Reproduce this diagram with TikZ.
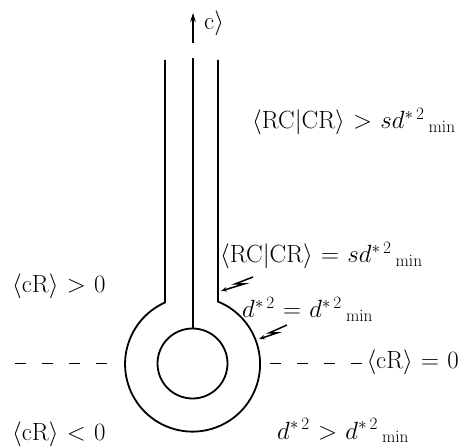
\documentclass[tikz,border=0pt]{standalone}
\usetikzlibrary{arrows.meta}
\DeclareMathSizes{23}{23}{16.5}{12}
\newcommand{\dsq}{{d^{*\,2}}}
\newcommand{\dmin}{{d^{*\,2}}\,{}_{\mathrm{min}}}
\begin{document}
\thickmuskip=6mu
\begin{tikzpicture}[x=1pt,y=1pt,
  wall/.style={line width=1.8pt},
  core/.style={line width=2.6pt},
  bolt/.style={line width=1.5pt,-{Stealth[length=6pt,width=4.5pt]}},
  divider/.style={line width=1pt,dash pattern=on 11pt off 16pt},
  lbl/.style={anchor=base west,inner sep=0pt,font=\fontsize{23}{27}\selectfont}]
\useasboundingbox (0,0) rectangle (460,447);
\coordinate (ctr) at (192.5,83.5);
% keyhole outer wall
\draw[wall] (165,387) -- (165,144.5) arc[start angle=114.1,end angle=427.8,radius=67.5] -- (218,387);
% inner circle and core line
\draw[wall] (ctr) circle[radius=35];
\draw[core] (193,389) -- (193,118.5);
% arrow c>
\coordinate (a0) at (193,404);
\coordinate (a1) at (193,434);
\draw[line width=1.2pt,-{Stealth[length=9pt,width=5.5pt]}] (a0) -- (a1);
\node[lbl] (c) at (204,417) {$\mathrm{c}\rangle$};
% dashed lines
\coordinate (dl0) at (15,84);
\coordinate (dl1) at (108,84);
\coordinate (dr0) at (270,84);
\coordinate (dr1) at (367,84);
\draw[divider] (dl0) -- (dl1);
\draw[divider] (dr0) -- (dr1);
% bolts
\draw[bolt] (253,170) -- (235,163) -- (244,163) -- (221,156);
\draw[bolt] (287,122) -- (269,114) -- (277,114) -- (259,108);
% labels
\node[lbl] (t1) at (252,318) {$\langle\mathrm{RC}|\mathrm{CR}\rangle > s\dmin$};
\node[lbl] (t2) at (220,184) {$\langle\mathrm{RC}|\mathrm{CR}\rangle = s\dmin$};
\node[lbl] (t3) at (12,154) {$\langle\mathrm{cR}\rangle > 0$};
\node[lbl] (t4) at (242,129) {$\dsq = \dmin$};
\node[lbl,anchor=base east] (t5) at (459,79) {$\langle\mathrm{cR}\rangle = 0$};
\node[lbl] (t6) at (277,8) {$\dsq > \dmin$};
\node[lbl] (t7) at (12,7) {$\langle\mathrm{cR}\rangle < 0$};
\end{tikzpicture}
\end{document}
